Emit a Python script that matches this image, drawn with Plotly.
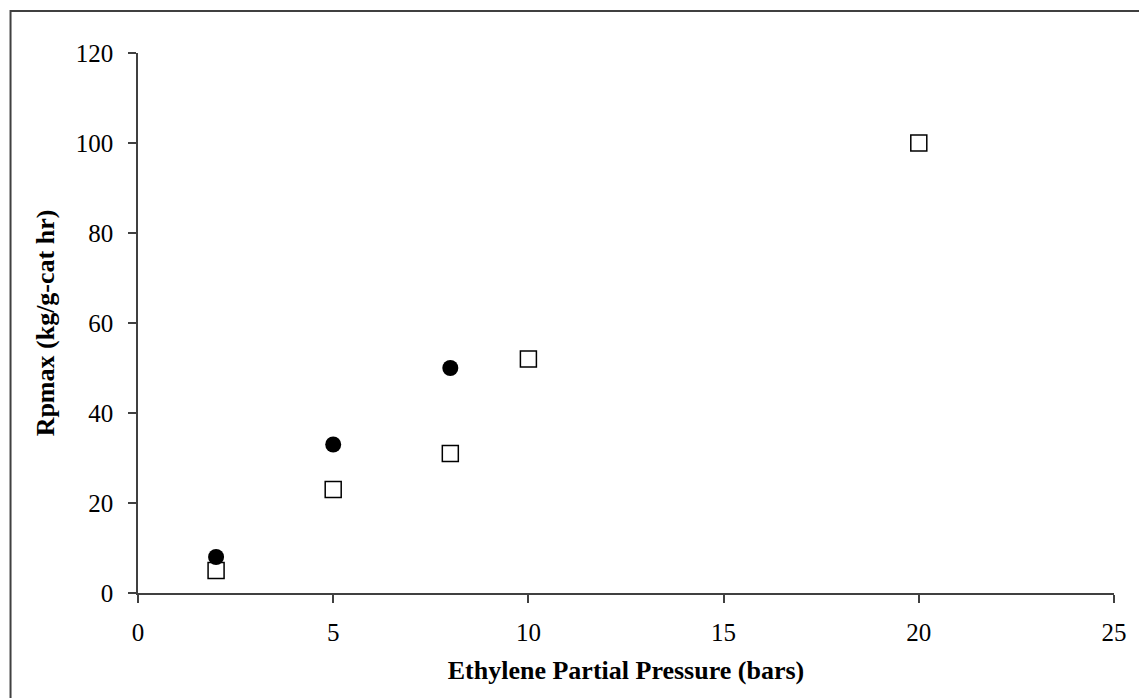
import plotly.graph_objects as go

# Data
pressure_circles = [2, 5, 8]
rp_circles = [8, 33, 50]
pressure_squares = [2, 5, 8, 10, 20]
rp_squares = [5, 23, 31, 52, 100]

x_ticks = [0, 5, 10, 15, 20, 25]
y_ticks = [0, 20, 40, 60, 80, 100, 120]

FONT = "Liberation Serif, Times New Roman, serif"

fig = go.Figure()
fig.add_trace(go.Scatter(
    x=pressure_squares, y=rp_squares, mode="markers",
    marker=dict(symbol="square-open", size=16, color="black", line=dict(width=1.5, color="black")),
    showlegend=False, cliponaxis=False,
))
fig.add_trace(go.Scatter(
    x=pressure_circles, y=rp_circles, mode="markers",
    marker=dict(symbol="circle", size=16, color="black", line=dict(width=0)),
    showlegend=False, cliponaxis=False,
))

fig.update_layout(
    width=1139, height=698,
    margin=dict(l=138, r=21, t=53, b=105),
    paper_bgcolor="white", plot_bgcolor="white",
    font=dict(family=FONT, size=25, color="black"),
    xaxis=dict(
        range=[0, 25], tickvals=x_ticks, ticktext=[str(v) for v in x_ticks],
        showgrid=False, zeroline=False, showline=True, linecolor="#404040", linewidth=1.5,
        ticks="outside", ticklen=8, tickwidth=1.5, tickcolor="#404040",
        ticklabelstandoff=8,
        title=dict(text="<b>Ethylene Partial Pressure (bars)</b>", font=dict(family=FONT, size=26), standoff=16),
    ),
    yaxis=dict(
        range=[0, 120], tickvals=y_ticks, ticktext=[str(v) for v in y_ticks],
        showgrid=False, zeroline=False, showline=True, linecolor="#404040", linewidth=1.5,
        ticks="outside", ticklen=8, tickwidth=1.5, tickcolor="#404040",
        ticklabelstandoff=10,
        title=dict(text="<b>Rpmax (kg/g-cat hr)</b>", font=dict(family=FONT, size=26), standoff=14),
    ),
    shapes=[dict(
        type="rect", xref="paper", yref="paper",
        x0=-0.1306, x1=1.2, y0=-0.4, y1=1.0778,
        line=dict(color="#404040", width=2), fillcolor="rgba(0,0,0,0)", layer="below",
    )],
)

fig.write_html("out.html")
